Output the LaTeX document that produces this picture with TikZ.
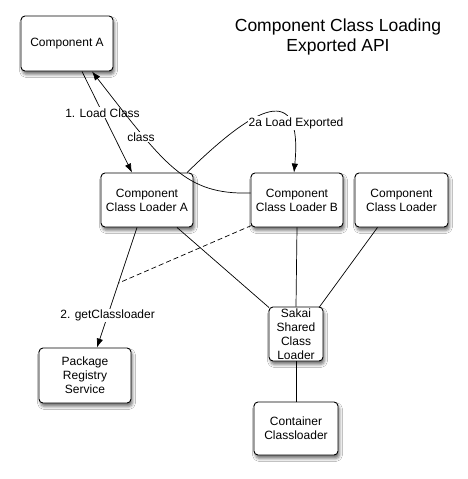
\documentclass[tikz,border=0pt]{standalone}
\usepackage{fontspec}
\setmainfont{Liberation Sans}
\usetikzlibrary{arrows.meta,shadows.blur}

\tikzset{
  box/.style={draw=black, line width=0.9pt, rounded corners=4pt, fill=white,
    align=center, inner sep=0pt,
    font=\fontsize{12}{14}\selectfont,
    blur shadow={shadow xshift=1.5pt, shadow yshift=-3.5pt,
      shadow blur radius=3pt, shadow opacity=55}},
  link/.style={draw=black, line width=0.7pt},
  arr/.style={link, -{Latex[length=9pt,width=6.5pt]}},
  lbl/.style={fill=white, inner sep=1pt, font=\fontsize{12}{14}\selectfont},
}

\begin{document}
\begin{tikzpicture}[x=1pt, y=-1pt]
  \useasboundingbox (0,0) rectangle (468,479);
  \fill[white] (0,0) rectangle (468,479);

  % title
  \node[align=center, font=\fontsize{17.5}{20}\selectfont] (title) at (338,37)
    {Component Class Loading\\Exported API};

  % boxes
  \node[box, minimum width=92pt, minimum height=55pt] (ca)   at (67,43.5)  {Component A};
  \node[box, minimum width=92pt, minimum height=54pt] (ccla) at (147,200)  {Component\\Class Loader A};
  \node[box, minimum width=92pt, minimum height=54pt] (cclb) at (297,200)  {Component\\Class Loader B};
  \node[box, minimum width=93pt, minimum height=54pt] (ccl)  at (401.5,200) {Component\\Class Loader};
  \node[box, minimum width=92pt, minimum height=55pt] (prs)  at (85,375.5) {Package\\Registry\\Service};
  \node[box, minimum width=54pt, minimum height=54pt] (ssl)  at (296,334)  {Sakai\\Shared\\Class\\Loader};
  \node[box, minimum width=84pt, minimum height=53pt] (cont) at (296,428.5) {Container\\Classloader};

  % plain links to the shared loader
  \draw[link] ([xshift=30pt]ccla.south) -- ([xshift=-27pt,yshift=-1pt]ssl.north);
  \draw[link] ([xshift=0pt]cclb.south) -- (ssl.north);
  \draw[link] ([xshift=-24pt]ccl.south) -- ([xshift=23pt,yshift=-1pt]ssl.north);
  \draw[link] (ssl.south) -- (cont.north);

  % 1. Load Class
  \draw[arr] ([xshift=15pt]ca.south) -- node[lbl, pos=0.41] (lload) {1. Load Class}
    ([xshift=-15pt]ccla.north);

  % class returned to Component A
  \draw[arr] ([yshift=7pt]cclb.west) .. controls (185,195) and (165,165) ..
    ([xshift=25pt]ca.south);
  \node[lbl] (lclass) at (141,137) {class};

  % 2a Load Exported
  \draw[arr] ([xshift=40pt]ccla.north) .. controls (255,106) and (303,80) ..
    ([xshift=-3pt]cclb.north);
  \node[lbl] (lexp) at (296,123) {2a Load Exported};

  % 2. getClassloader
  \draw[arr] ([xshift=-10pt]ccla.south) -- coordinate[pos=0.463] (dj)
    node[lbl, pos=0.735] (lget) {2. getClassloader}
    ([xshift=12pt]prs.north);

  % dashed delegation link
  \draw[link, dashed, dash pattern=on 5pt off 3pt] ([xshift=1pt,yshift=2pt]cclb.south west) -- (dj);
\end{tikzpicture}
\end{document}
